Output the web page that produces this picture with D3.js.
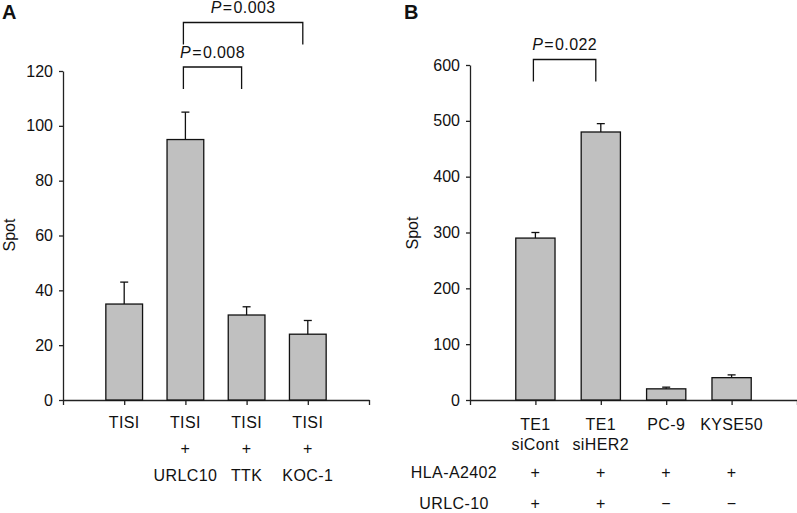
<!DOCTYPE html>
<html><head><meta charset="utf-8">
<script src="https://cdn.jsdelivr.net/npm/d3@7"></script>
<style>
body{margin:0;background:#fff;}
svg text{font-family:"Liberation Sans",Arial,Helvetica,sans-serif;fill:#111;}
</style></head>
<body>
<svg id="chart" width="797" height="513"></svg>
<script>
// ---- Panel A data ----
const catsA = ["TISI", "TISI+URLC10", "TISI+TTK", "TISI+KOC-1"];
const labelA1 = ["TISI", "TISI", "TISI", "TISI"];
const labelA2 = ["", "+", "+", "+"];
const labelA3 = ["", "URLC10", "TTK", "KOC-1"];
const valuesA = [35, 95, 31, 24];
const errTopA = [43, 105, 34, 29];
const ticksA = [0, 20, 40, 60, 80, 100, 120];
const pA = [
  {from: 1, to: 2, label: "0.008", level: 1},
  {from: 1, to: 3, label: "0.003", level: 2}
];
// ---- Panel B data ----
const catsB = ["TE1 siCont", "TE1 siHER2", "PC-9", "KYSE50"];
const labelB1 = ["TE1", "TE1", "PC-9", "KYSE50"];
const labelB2 = ["siCont", "siHER2", "", ""];
const hlaB = ["+", "+", "+", "+"];
const urlcB = ["+", "+", "\u2212", "\u2212"];
const valuesB = [290, 480, 20, 40];
const errTopB = [300, 495, 23, 45];
const ticksB = [0, 100, 200, 300, 400, 500, 600];
const pB = [{from: 0, to: 1, label: "0.022", level: 1}];

const svg = d3.select("#chart");
const axisColor = "#222";
const FS = 16;

function panel(cfg) {
  const g = svg.append("g");
  const y = d3.scaleLinear().domain([0, cfg.ymax]).range([400, cfg.ytop]);
  const x = d3.scaleLinear().domain([0, cfg.values.length + 1]).range([cfg.x0, cfg.x1]);
  const step = x(1) - x(0);
  const bw = step * 0.6;

  // y axis
  const ya = g.append("g").attr("transform", `translate(${cfg.x0},0)`)
    .call(d3.axisLeft(y).tickValues(cfg.ticks).tickSize(4).tickSizeOuter(0).tickPadding(6));
  ya.selectAll("path,line").attr("stroke", axisColor).attr("stroke-width", 1.3);
  ya.selectAll("text").attr("font-size", FS).attr("fill", "#111")
    .style("font-family", '"Liberation Sans",Arial,sans-serif');

  // x axis
  const xa = g.append("g").attr("transform", `translate(0,400)`)
    .call(d3.axisBottom(x).tickValues(d3.range(0, cfg.values.length + 2)).tickFormat("").tickSize(5).tickSizeOuter(0));
  xa.selectAll("path,line").attr("stroke", axisColor).attr("stroke-width", 1.3);

  // bars
  g.selectAll("rect.bar").data(cfg.values).join("rect")
    .attr("x", (d, i) => x(i + 1) - bw / 2)
    .attr("y", d => y(d))
    .attr("width", bw)
    .attr("height", d => y(0) - y(d))
    .attr("fill", "#c0c0c0").attr("stroke", "#111").attr("stroke-width", 1.3);

  // error bars (upper only)
  const eg = g.append("g").attr("stroke", "#111").attr("stroke-width", 1.3);
  cfg.err.forEach((e, i) => {
    eg.append("line").attr("x1", x(i + 1)).attr("x2", x(i + 1)).attr("y1", y(cfg.values[i])).attr("y2", y(e));
    eg.append("line").attr("x1", x(i + 1) - 4).attr("x2", x(i + 1) + 4).attr("y1", y(e)).attr("y2", y(e));
  });

  // significance brackets
  cfg.p.forEach(p => {
    const top = cfg.bracketTop[p.level - 1];
    const xl = x(p.from + 1) - 2, xr = x(p.to + 1) - 5;
    g.append("path")
      .attr("d", `M${xl},${top + 22}V${top}H${xr}V${top + 22}`)
      .attr("fill", "none").attr("stroke", "#111").attr("stroke-width", 1.3);
    const t = g.append("text").attr("x", (xl + xr) / 2).attr("y", top - 9.5)
      .attr("text-anchor", "middle").attr("font-size", FS).style("letter-spacing", "0.4px");
    t.append("tspan").attr("font-style", "italic").text("P");
    t.append("tspan").attr("dx", 1).text("=");
    t.append("tspan").attr("dx", 1).text(p.label);
  });

  // panel letter
  g.append("text").attr("x", cfg.x0 - cfg.letterOff).attr("y", 19)
    .attr("font-size", 20).attr("font-weight", "bold").text(cfg.letter);

  // y axis title
  g.append("text").attr("transform", `translate(${cfg.spotX},${cfg.spotY}) rotate(-90)`)
    .attr("text-anchor", "middle").attr("font-size", FS).text("Spot");

  // category labels
  cfg.rows.forEach(r => {
    g.selectAll(null).data(r.labels).join("text")
      .attr("x", (d, i) => x(i + 1)).attr("y", r.y)
      .attr("text-anchor", "middle").attr("font-size", FS).style("letter-spacing", "0.4px")
      .text(d => d);
  });
  return {x, y};
}

panel({
  letter: "A", letterOff: 61, x0: 63, x1: 369, ytop: 71, ymax: 120,
  values: valuesA, err: errTopA, ticks: ticksA, p: pA, bracketTop: [67, 22.5],
  spotX: 15, spotY: 235,
  rows: [{labels: labelA1, y: 428}, {labels: labelA2, y: 454}, {labels: labelA3, y: 481}]
});

panel({
  letter: "B", letterOff: 66, x0: 470, x1: 797, ytop: 65, ymax: 600,
  values: valuesB, err: errTopB, ticks: ticksB, p: pB, bracketTop: [59.5],
  spotX: 418, spotY: 233,
  rows: [{labels: labelB1, y: 430}, {labels: labelB2, y: 450}, {labels: hlaB, y: 478}, {labels: urlcB, y: 509}]
});

svg.append("text").attr("x", 454).attr("y", 478).attr("text-anchor", "middle")
  .attr("font-size", FS).style("letter-spacing", "0.4px").text("HLA-A2402");
svg.append("text").attr("x", 454).attr("y", 509).attr("text-anchor", "middle")
  .attr("font-size", FS).style("letter-spacing", "0.4px").text("URLC-10");
</script>
</body></html>
